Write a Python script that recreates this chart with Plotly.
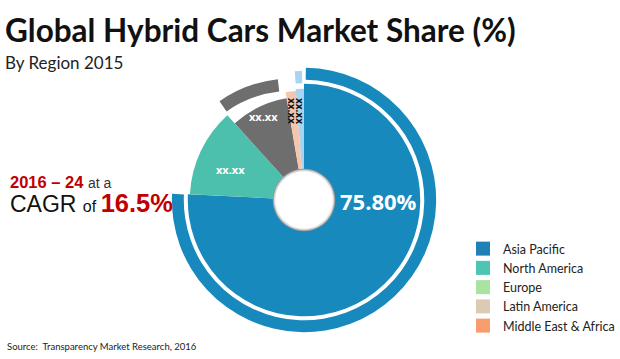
import plotly.graph_objects as go

W, H = 620, 359

# ---------------- data ----------------
regions = ["Asia Pacific", "North America", "Europe", "Latin America", "Middle East & Africa"]
shares = [75.8, 12.5, 9.0, 1.5, 1.2]            # % (only Asia Pacific is labelled)
slice_texts = ["xx.xx", "xx.xx", "xx.xx", "xx.xx"]  # placeholder labels of the small slices
cagr_period = "2016 – 24"
cagr_value = "16.5%"

slice_colors = ["#1889bd", "#4cc0ad", "#6e6e6e", "#f6c6ab", "#a8d4f3"]
legend_colors = ["#1f80b8", "#4ec4b2", "#a8e3a1", "#ddcab3", "#f89d6d"]
slice_radius = [117, 115, 104, 110, 112]         # style: outer radius of each wedge (px)

# ---------------- geometry from data ----------------
cum = [0.0]
for v in shares:
    cum.append(cum[-1] + v)
start_deg = [c * 3.6 for c in cum[:-1]]
end_deg = [c * 3.6 for c in cum[1:]]
widths = [v * 3.6 for v in shares]
centers = [s + w / 2 for s, w in zip(start_deg, widths)]


def px(x, y):
    return x / W, 1 - y / H


R = 135  # radial range in px
cx, cy = 306, 200
cx2, cy2 = 294, 205

fig = go.Figure()

# main wedges
fig.add_trace(go.Barpolar(
    r=slice_radius, theta=centers, width=widths, base=[0] * 5,
    marker=dict(color=slice_colors, line=dict(width=0)),
    subplot="polar", showlegend=False, hoverinfo="skip"))

# outer ring arcs (Asia Pacific and Middle East & Africa)
ring_start = [start_deg[0] + 0.8, start_deg[4] + 0.2]
ring_end = [end_deg[0] - 0.2, end_deg[4] - 0.9]
fig.add_trace(go.Barpolar(
    r=[12, 12.5], base=[121, 117.5],
    theta=[(a + b) / 2 for a, b in zip(ring_start, ring_end)],
    width=[b - a for a, b in zip(ring_start, ring_end)],
    marker=dict(color=[slice_colors[0], slice_colors[4]], line=dict(width=0)),
    subplot="polar", showlegend=False, hoverinfo="skip"))

# centre hole
fig.add_trace(go.Barpolar(
    r=[31.5, 30.5, 29], base=[0, 0, 0], theta=[0, 0, 0], width=[359.99] * 3,
    marker=dict(color=["#9a9a9a", "#d9d9d9", "#ffffff"], line=dict(width=0)),
    subplot="polar", showlegend=False, hoverinfo="skip"))

# detached arc of the Europe slice (own, slightly shifted polar frame)
fig.add_trace(go.Barpolar(
    r=[12.5], base=[115], theta=[centers[2] + 5.2], width=[widths[2] * 0.88],
    marker=dict(color=slice_colors[2], line=dict(width=0)),
    subplot="polar2", showlegend=False, hoverinfo="skip"))

# legend entries
for name, col in zip(regions, legend_colors):
    fig.add_trace(go.Scatter(x=[None], y=[None], mode="markers", name=name,
                             marker=dict(symbol="square", size=14, color=col)))

polar_common = dict(
    bgcolor="rgba(0,0,0,0)", barmode="overlay",
    radialaxis=dict(range=[0, R], visible=False),
    angularaxis=dict(direction="clockwise", rotation=90, visible=False),
)
fig.update_layout(
    width=W, height=H, margin=dict(l=0, r=0, t=0, b=0),
    paper_bgcolor="white", plot_bgcolor="white",
    xaxis=dict(visible=False), yaxis=dict(visible=False),
    polar=dict(domain=dict(x=[(cx - R) / W, (cx + R) / W],
                           y=[(H - cy - R) / H, (H - cy + R) / H]), **polar_common),
    polar2=dict(domain=dict(x=[(cx2 - R) / W, (cx2 + R) / W],
                            y=[(H - cy2 - R) / H, (H - cy2 + R) / H]), **polar_common),
    legend=dict(x=466 / W, y=1 - 234 / H, xanchor="left", yanchor="top",
                font=dict(family="Lato", size=12.5, color="#222"),
                bgcolor="rgba(0,0,0,0)", itemclick=False),
)

ann = []


def add_text(x, y, text, size, color, family="Lato", xanchor="left", angle=0):
    ax, ay = px(x, y)
    ann.append(dict(x=ax, y=ay, xref="paper", yref="paper", text=text, showarrow=False,
                    xanchor=xanchor, yanchor="middle", textangle=angle,
                    font=dict(family=family, size=size, color=color)))


add_text(3, 30, "<b>Global Hybrid Cars Market Share (%)</b>", 31.5, "#111")
add_text(3, 62, "By Region 2015", 17, "#222")
add_text(8, 182, f"<b>{cagr_period}</b> <span style='font-size:14px;color:#333'>at a</span>",
         16.5, "#c00000", family="Liberation Sans")
add_text(8, 203, "CAGR <span style='font-size:16px'>of </span>"
                 f"<span style='font-size:25.5px;color:#c00000'><b>{cagr_value}</b></span>",
         23, "#111", family="Liberation Sans")
add_text(5, 346, "Source:  Transparency Market Research, 2016", 9.5, "#222")

add_text(381, 201, f"<b>{shares[0]:.2f}%</b>", 22, "white", family="Open Sans", xanchor="center")
add_text(232, 169, f"<b>{slice_texts[0]}</b>", 11, "white", family="Open Sans", xanchor="center")
add_text(265, 116, f"<b>{slice_texts[1]}</b>", 11, "white", family="Open Sans", xanchor="center")
add_text(294, 111, f"<b>{slice_texts[2]}</b>", 10, "#111", family="Open Sans",
         xanchor="center", angle=90)
add_text(302, 111, f"<b>{slice_texts[3]}</b>", 10, "#111", family="Open Sans",
         xanchor="center", angle=90)

fig.update_layout(annotations=ann)
fig.write_html("out.html", config={"displayModeBar": False},
               post_script="document.body.style.margin='0';")
